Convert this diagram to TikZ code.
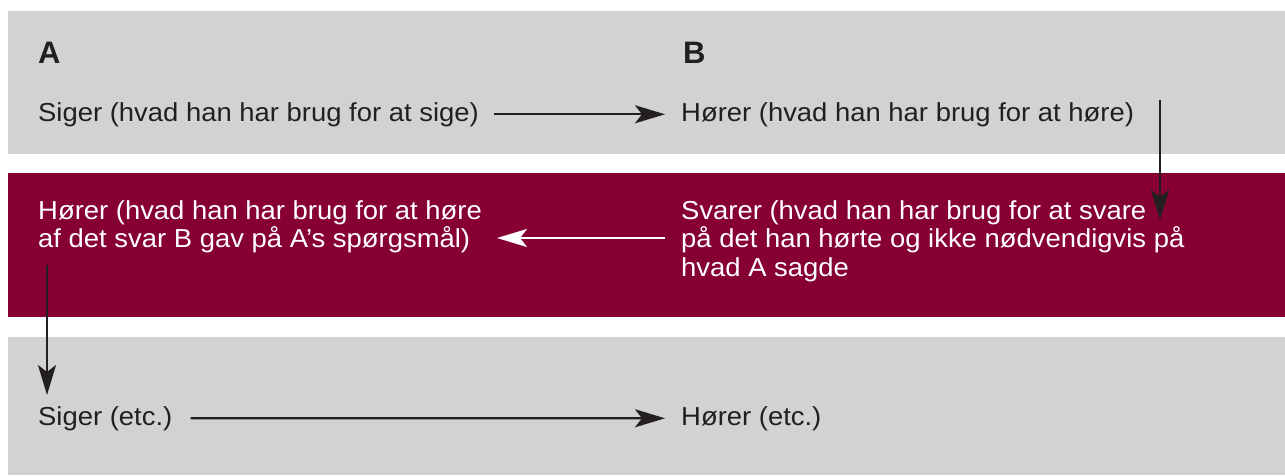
\documentclass[tikz,border=0pt]{standalone}
\usepackage{fontspec}
\setmainfont{Liberation Sans}
\newfontfamily\bodyfont[FakeStretch=1.055]{Liberation Sans}
\usetikzlibrary{arrows.meta}
\definecolor{bandgray}{HTML}{D1D2D4}
\definecolor{bandred}{HTML}{860033}
\definecolor{ink}{HTML}{231F20}
\tikzset{
  x=1pt, y=1pt,
  txt/.style={inner sep=0pt, anchor=base west, text=ink,
    font=\bodyfont\fontsize{26}{28.5}\selectfont},
  wtxt/.style={txt, text=white},
  head/.style={inner sep=0pt, anchor=base west, text=ink,
    font=\fontsize{31}{33}\selectfont\bfseries},
  flow/.style={draw=ink, line width=2.3pt,
    -{Stealth[length=30pt, width=18pt, inset=7pt]}},
  wflow/.style={flow, draw=white},
}
\begin{document}
\begin{tikzpicture}
\useasboundingbox (0,0) rectangle (1285,-475);
% three horizontal bands
\fill[bandgray] (8,-11) rectangle (1285,-154);
\fill[bandred]  (8,-173) rectangle (1285,-317);
\fill[bandgray] (8,-337) rectangle (1285,-475);

% column heads
\node[head] (ha) at (38,-63) {A};
\node[head] (hb) at (683,-63) {B};

% first row
\node[txt] (s1) at (38,-121) {Siger (hvad han har brug for at sige)};
\node[txt] (h1) at (681,-121) {Hører (hvad han har brug for at høre)};

% second row
\node[wtxt, anchor=north west, align=left] (h2) at (38,-200)
  {Hører (hvad han har brug for at høre\\af det svar B gav på A’s spørgsmål)};
\node[wtxt, anchor=north west, align=left] (sv) at (681,-200)
  {Svarer (hvad han har brug for at svare\\på det han hørte og ikke nødvendigvis på\\hvad A sagde};

% third row
\node[txt] (s3) at (38,-425) {Siger (etc.)};
\node[txt] (h3) at (681,-425) {Hører (etc.)};

% connector end points
\coordinate (d1a) at (1160,-100);
\coordinate (d1b) at (1160,-220);
\coordinate (w1a) at (665,-238);
\coordinate (w1b) at (497,-238);
\coordinate (d2a) at (47,-265);
\coordinate (d2b) at (47,-395);

\draw[flow] ([xshift=15pt]s1.east) -- ([xshift=-16pt]h1.west);
\draw[flow] (d1a) -- (d1b);
\draw[wflow] (w1a) -- (w1b);
\draw[flow] (d2a) -- (d2b);
\draw[flow] ([xshift=18pt]s3.east) -- ([xshift=-16pt]h3.west);
\end{tikzpicture}
\end{document}
